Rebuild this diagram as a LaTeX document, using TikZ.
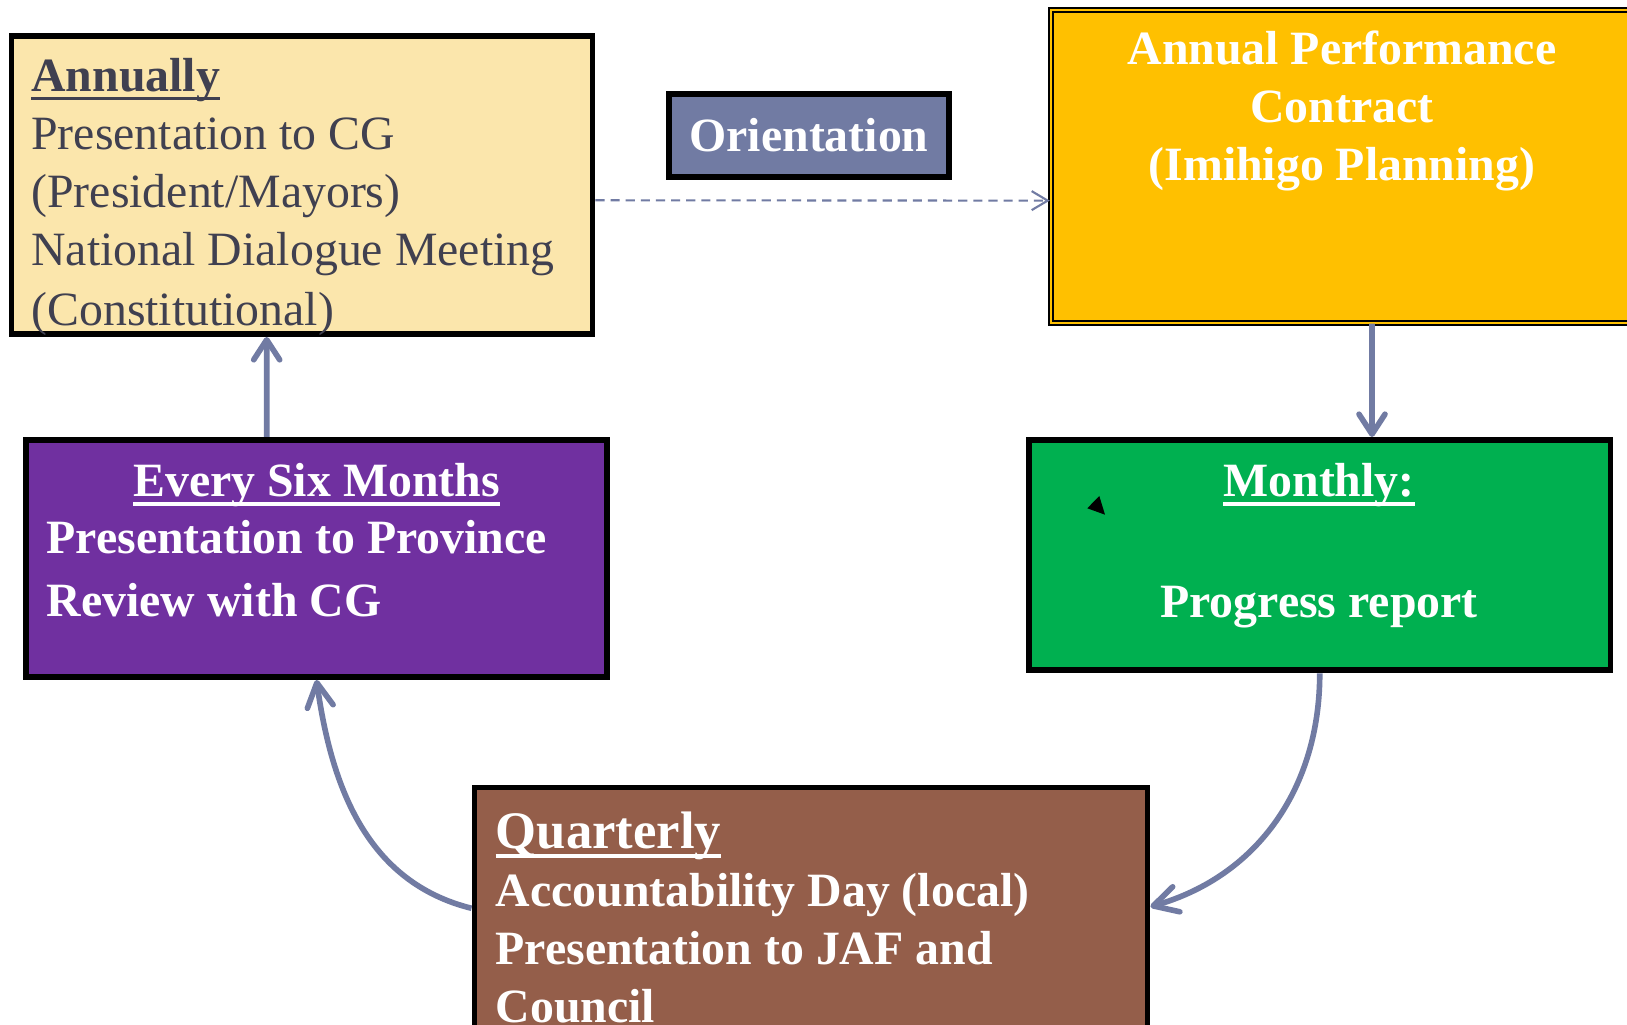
\documentclass[tikz,border=0pt]{standalone}
\usepackage{fontspec}
\setmainfont{Liberation Serif}
\usepackage{tikz}
\usetikzlibrary{arrows.meta}

\definecolor{annfill}{RGB}{251,230,172}
\definecolor{anntext}{RGB}{64,64,80}
\definecolor{slate}{RGB}{113,123,163}
\definecolor{apcfill}{RGB}{255,192,0}
\definecolor{monthfill}{RGB}{0,176,80}
\definecolor{sixfill}{RGB}{112,48,160}
\definecolor{quartfill}{RGB}{148,94,74}

\newcommand{\boxfont}{\fontsize{13.6}{16.5}\selectfont}
\newsavebox{\ulsave}
\newcommand{\ulbox}[1]{\sbox{\ulsave}{#1}\rlap{\rule[-2.5pt]{\wd\ulsave}{1pt}}\usebox{\ulsave}}

\tikzset{
  box/.style={draw=black, line width=1.7pt, inner sep=0pt},
  txt/.style={inner sep=0pt, font=\boxfont},
  btxt/.style={inner sep=0pt, text=white, font=\boxfont\bfseries},
  flow/.style={draw=slate, line width=1.6pt, -{Straight Barb[length=2mm,width=2.6mm,round]}},
  bendflow/.style={flow, -{Straight Barb[length=2.4mm,width=2.6mm,round]}},
  dashflow/.style={draw=slate, line width=0.6pt, dash pattern=on 2.6pt off 1.7pt,
    -{Straight Barb[length=1.6mm,width=1.9mm]}}
}

\begin{document}
\begin{tikzpicture}
  \path[use as bounding box, fill=white] (0,0) rectangle (16.27,10.25);

  % boxes
  \node[box, fill=annfill, minimum width=5.81cm, minimum height=2.98cm] (annual) at (3.02,8.40) {};
  \node[box, fill=slate, minimum width=2.80cm, minimum height=0.83cm, text=white,
    font=\boxfont\bfseries] (orient) at (8.09,8.895) {Orientation};
  \node[draw=black, line width=0.6pt, double=apcfill, double distance=0.6pt, fill=apcfill,
    minimum width=6.2cm, minimum height=3.127cm] (apc) at (13.608,8.5865) {};
  \node[box, fill=monthfill, minimum width=5.815cm, minimum height=2.305cm] (monthly) at (13.1975,4.6975) {};
  \node[box, fill=sixfill, minimum width=5.81cm, minimum height=2.37cm] (six) at (3.165,4.665) {};
  \node[box, fill=quartfill, minimum width=6.73cm, minimum height=2.7cm] (quart) at (8.11,1.025) {};

  % texts
  \node[txt, text=anntext, anchor=base west] (annualtxt) at (0.307,9.333)
    {\begin{tabular}[t]{@{}l@{}}\textbf{\ulbox{Annually}}\\ Presentation to CG\\ (President/Mayors)\\
      National Dialogue Meeting\\[0.6pt] (Constitutional)\end{tabular}};
  \node[btxt, anchor=base] (apctxt) at (13.42,9.60)
    {\begin{tabular}[t]{@{}c@{}}Annual Performance\\ Contract\\ (Imihigo Planning)\end{tabular}};
  \node[btxt, anchor=base] (monthlytxt) at (13.19,5.28)
    {\begin{tabular}[t]{@{}c@{}}\ulbox{Monthly:}\\ \\[1.2pt] Progress report\end{tabular}};
  \node[btxt, anchor=base] (sixtitle) at (3.165,5.28) {\ulbox{Every Six Months}};
  \node[btxt, anchor=base west] (sixtxt) at (0.46,4.71)
    {\begin{tabular}[t]{@{}l@{}}Presentation to Province\\[1.4pt] Review with CG\end{tabular}};
  \node[btxt, anchor=base west] (quarttxt) at (4.95,1.76)
    {\begin{tabular}[t]{@{}l@{}}{\fontsize{15}{16.5}\selectfont\ulbox{Quarterly}}\\
      Accountability Day (local)\\ Presentation to JAF and\\ Council\end{tabular}};

  \fill (10.993,5.29) -- (10.873,5.167) -- (11.05,5.103) -- cycle;

  % connectors
  \draw[dashflow] ([yshift=-1.53mm]annual.east) -- ([yshift=-3.43mm]apc.west);
  \draw[flow] ([xshift=1.12mm]apc.south) -- ([xshift=5.225mm]monthly.north);
  \draw[bendflow] (monthly.south) to[out=-90, in=16] ([yshift=1.58mm]quart.east);
  \draw[bendflow] ([yshift=1.42mm]quart.west) to[out=166, in=-82] (six.south);
  \draw[flow] ([xshift=-4.98mm]six.north) -- ([xshift=-3.53mm]annual.south);
\end{tikzpicture}
\end{document}
